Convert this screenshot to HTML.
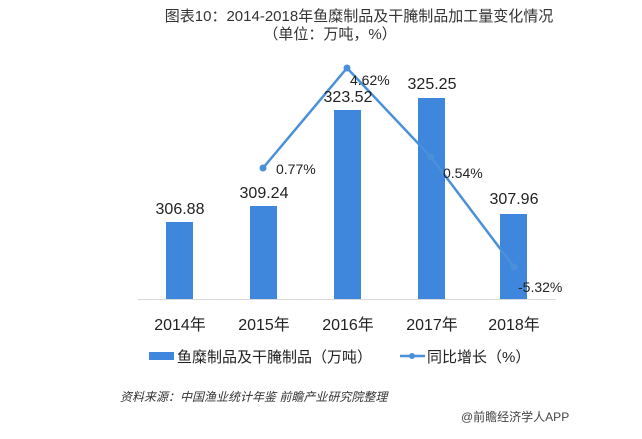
<!DOCTYPE html>
<html><head><meta charset="utf-8"><style>
body{margin:0;background:#fff;}
svg{display:block;font-family:"Liberation Sans","Noto Sans CJK SC",sans-serif;}
</style></head><body>
<svg width="642" height="439" viewBox="0 0 642 439">
<text x="359" y="21" font-size="15" text-anchor="middle" fill="#333">图表10：2014-2018年鱼糜制品及干腌制品加工量变化情况</text>
<text x="330" y="39" font-size="15" text-anchor="middle" fill="#333">（单位：万吨，%）</text>
<line x1="138" y1="299.5" x2="556" y2="299.5" stroke="#d9d9d9"/>
<g fill="#3f86dd">
<rect x="166" y="222" width="27" height="77"/>
<rect x="250" y="206" width="27" height="93"/>
<rect x="334" y="110" width="27" height="189"/>
<rect x="418" y="98" width="27" height="201"/>
<rect x="500" y="214" width="27" height="85"/>
</g>
<polyline points="263,168 347,68 431,157 514,267" fill="none" stroke="#4a90d9" stroke-width="2.5"/>
<g fill="#4a90d9"><circle cx="263" cy="168" r="3.5"/><circle cx="347" cy="68" r="3.5"/><circle cx="431" cy="157" r="3.5"/><circle cx="514" cy="267" r="3.5"/></g>
<g font-size="16" fill="#222" text-anchor="middle">
<text x="180" y="214">306.88</text>
<text x="264" y="198">309.24</text>
<text x="348" y="102">323.52</text>
<text x="432" y="89">325.25</text>
<text x="514" y="204">307.96</text>
</g>
<g font-size="14" fill="#222">
<text x="276" y="174">0.77%</text>
<text x="350" y="85">4.62%</text>
<text x="443" y="178">0.54%</text>
<text x="518" y="292">-5.32%</text>
</g>
<g font-size="16" fill="#222" text-anchor="middle">
<text x="180" y="330">2014年</text>
<text x="264" y="330">2015年</text>
<text x="348" y="330">2016年</text>
<text x="432" y="330">2017年</text>
<text x="514" y="330">2018年</text>
</g>
<rect x="149" y="352" width="25" height="8" fill="#3f86dd"/>
<text x="177" y="362" font-size="15" fill="#222">鱼糜制品及干腌制品（万吨）</text>
<line x1="400" y1="356" x2="425" y2="356" stroke="#4a90d9" stroke-width="2.5"/>
<circle cx="412" cy="356" r="3" fill="#4a90d9"/>
<text x="427" y="362" font-size="15" fill="#222">同比增长（%）</text>
<text x="120" y="401" font-size="12" font-style="italic" fill="#333">资料来源：中国渔业统计年鉴 前瞻产业研究院整理</text>
<text x="461" y="421" font-size="12" fill="#444">@前瞻经济学人APP</text>
</svg>
</body></html>
